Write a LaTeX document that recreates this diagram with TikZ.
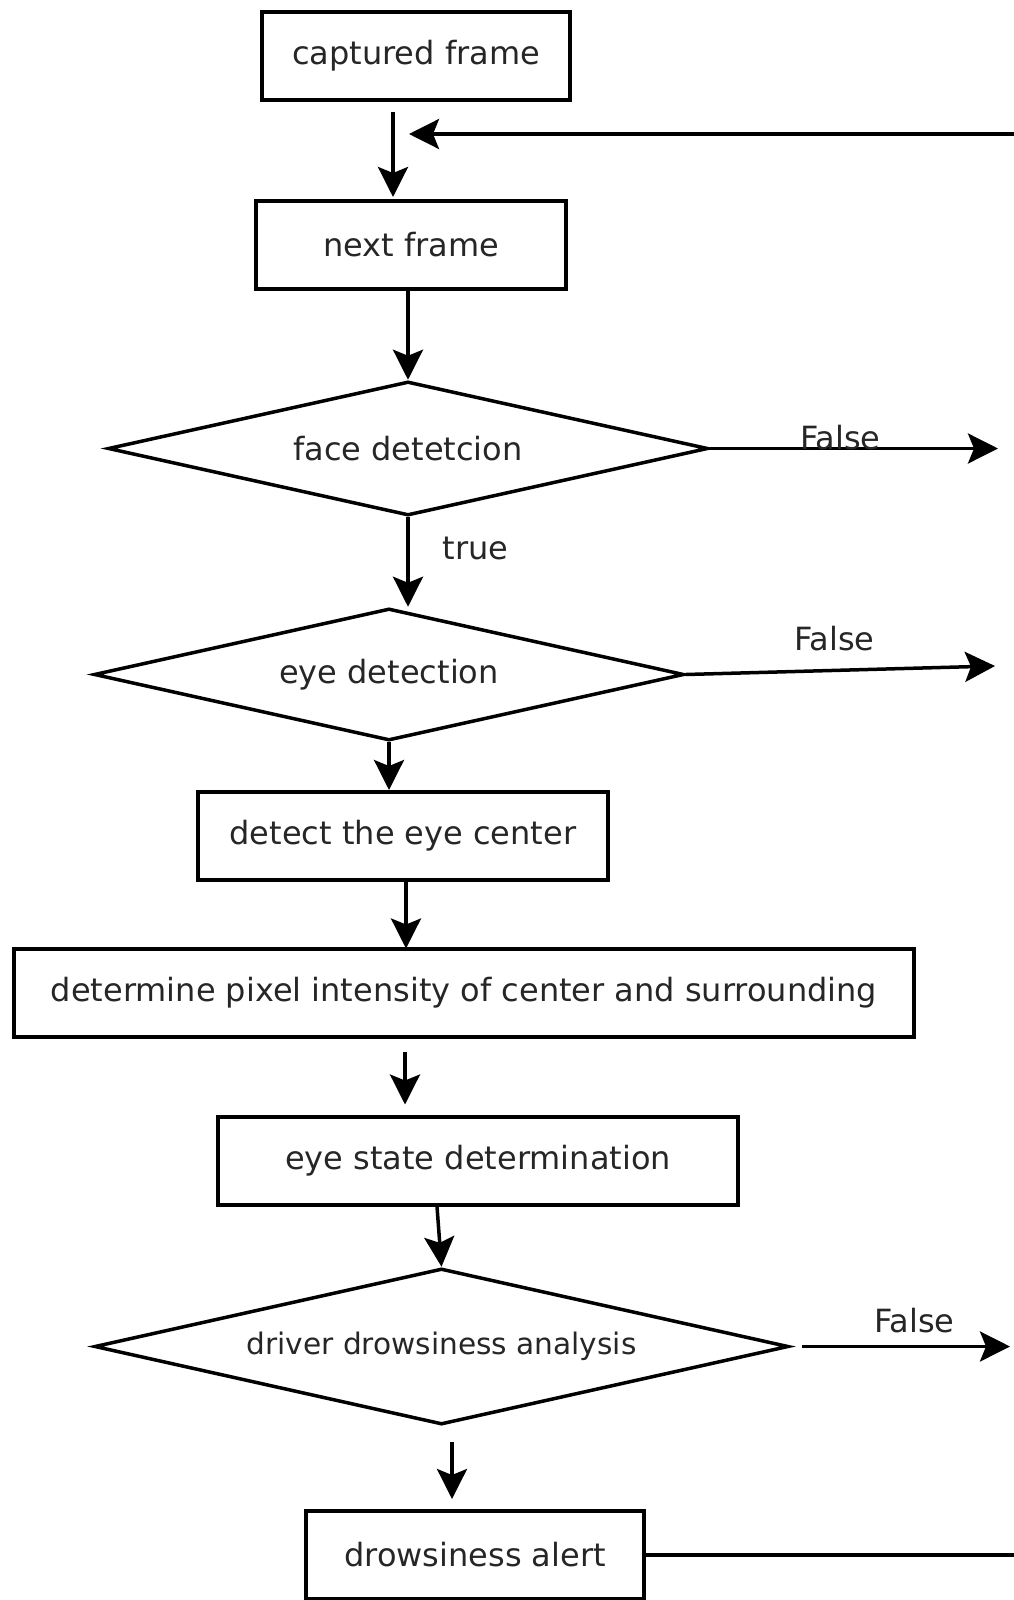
\documentclass[tikz,border=0pt]{standalone}
\usepackage{fontspec}
\setmainfont{DejaVu Sans}
\usetikzlibrary{shapes.geometric, arrows.meta}
\tikzstyle{block} = [rectangle, draw, line width=4pt, minimum height=88pt,
    inner sep=0pt, text centered]
\tikzstyle{decision} = [diamond, draw, line width=3.5pt, inner sep=0pt, aspect=8]
\tikzstyle{line} = [draw, line width=3.5pt, -{Stealth[length=30pt,width=30pt,inset=6pt]}]
\tikzstyle{lbl} = [inner sep=0pt]

\begin{document}
\begin{tikzpicture}[x=1pt, y=1pt, font=\fontsize{32}{38}\selectfont, text=black!85]
            \useasboundingbox (0,0) rectangle (1013,-1600);
            % Place nodes
            \node [block, minimum width=308pt] (cap) at (416,-56) {captured frame};
            \node [block, below of=cap, node distance=189pt, xshift=-5pt, minimum width=310pt] (next) {next frame};
            \node [decision, below of=next, node distance=203.5pt, xshift=-3pt,
                minimum width=600pt, minimum height=134pt] (face) {face detetcion};
            \node [decision, below of=face, node distance=226pt, xshift=-19pt,
                minimum width=590pt, minimum height=132pt] (eye) {eye detection};
            \node [block, below of=eye, node distance=161.5pt, xshift=14pt, minimum width=410pt] (center) {detect the eye center};
            \node [block, below of=center, node distance=156.5pt, xshift=61pt, minimum width=900pt] (pixel) {determine pixel intensity of center and surrounding};
            \node [block, below of=pixel, node distance=168pt, xshift=14pt, minimum width=520pt] (state) {eye state determination};
            \node [decision, below of=state, node distance=186pt, xshift=-36.5pt,
                minimum width=694pt, minimum height=156pt, font=\fontsize{29.6}{36}\selectfont] (analysis) {driver drowsiness analysis};
            \node [block, below of=analysis, node distance=208.5pt, xshift=33.5pt, minimum width=338pt] (alert) {drowsiness alert};
            % free ends
            \coordinate (f1) at (998,-448.5);
            \coordinate (f2) at (995,-666);
            \coordinate (f3) at (1010,-1346.5);
            \coordinate (edge) at (1040,-134);
            \coordinate (ret) at (409,-134);
            % Draw edges
            \path [line] ([xshift=-23pt,yshift=-10pt]cap.south) -- ([xshift=-18pt,yshift=2pt]next.north);
            \path [line] ([xshift=-3pt]next.south) -- (face.north);
            \path [line] (face.south) -- node [lbl, pos=0.47, anchor=base west, xshift=33pt] {true} (face.south |- eye.north);
            \path [line] (face.east) -- node [lbl, pos=0.453, anchor=base, yshift=-1pt] {False} (f1);
            \path [line] (eye.south) -- (eye.south |- center.north);
            \path [line] (eye.east) -- node [lbl, pos=0.48, anchor=base, yshift=20pt] {False} (f2);
            \path [line] ([xshift=3pt]center.south) -- ([xshift=3pt,yshift=-2pt]center.south |- pixel.north);
            \path [line] ([xshift=-59pt,yshift=-13pt]pixel.south) -- ([xshift=-73pt,yshift=10pt]state.north);
            \path [line] ([xshift=-41pt]state.south) -- (analysis.north);
            \path [line] ([xshift=12pt]analysis.east) -- node [lbl, pos=0.54, anchor=base, yshift=14.5pt] {False} (f3);
            \path [line] ([xshift=10.5pt,yshift=-16pt]analysis.south) -- ([xshift=-23pt,yshift=10pt]alert.north);
            \path [line] (alert.east) -| (edge) -- (ret);
        \end{tikzpicture}
\end{document}
